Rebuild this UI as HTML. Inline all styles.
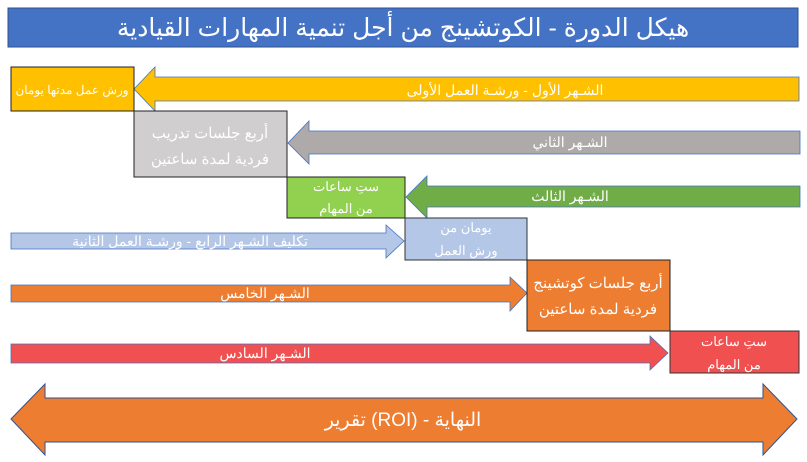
<!DOCTYPE html>
<html><head><meta charset="utf-8"><style>
html,body{margin:0;padding:0;background:#fff;width:807px;height:462px;overflow:hidden}
svg text{font-family:"Liberation Sans","Noto Sans CJK SC",sans-serif;fill:#fff}
</style></head><body>
<svg width="807" height="462" xmlns="http://www.w3.org/2000/svg">
<rect x="8" y="8" width="790" height="39" fill="#4472C4" stroke="#2F528F"/>
<text x="403" y="36" font-size="25" text-anchor="middle" direction="rtl">هيكل الدورة - الكوتشينج من أجل تنمية المهارات القيادية</text>

<polygon points="134,89 155,67 155,77 799,77 799,101 155,101 155,111" fill="#FFC000" stroke="#4472C4" stroke-width="0.8"/>
<text x="505" y="95" font-size="14" text-anchor="middle">الشـهر الأول - ورشـة العمل الأولى</text>
<rect x="11" y="67" width="123" height="44" fill="#FFC000" stroke="#222"/>
<text x="72" y="94" font-size="12" text-anchor="middle">ورش عمل مدتها يومان</text>

<polygon points="288,143 309,121 309,131 800,131 800,154 309,154 309,164" fill="#AEAAAA" stroke="#4472C4" stroke-width="0.8"/>
<text x="570" y="147" font-size="14" text-anchor="middle">الشـهر الثاني</text>
<rect x="134" y="111" width="153" height="66" fill="#D0CECE" stroke="#222"/>
<text x="210" y="138" font-size="15" text-anchor="middle">أربع جلسات تدريب</text>
<text x="210" y="164" font-size="15" text-anchor="middle">فردية لمدة ساعتين</text>

<polygon points="406,197 427,176 427,186 800,186 800,207 427,207 427,218" fill="#70AD47" stroke="#4472C4" stroke-width="0.8"/>
<text x="570" y="201" font-size="14" text-anchor="middle">الشـهر الثالث</text>
<rect x="287" y="177" width="118" height="41" fill="#92D050" stroke="#222"/>
<text x="346" y="191" font-size="13" text-anchor="middle">ستِ ساعات</text>
<text x="346" y="213" font-size="13" text-anchor="middle">من المهام</text>

<polygon points="11,233 386,233 386,225 404,241 386,258 386,249 11,249" fill="#B4C7E7" stroke="#4472C4" stroke-width="0.8"/>
<text x="190" y="246" font-size="14" text-anchor="middle">تكليف الشـهر الرابع - ورشـة العمل الثانية</text>
<rect x="405" y="218" width="122" height="42" fill="#B4C7E7" stroke="#333"/>
<text x="466" y="232" font-size="13" text-anchor="middle">يومان من</text>
<text x="466" y="255" font-size="13" text-anchor="middle">ورش العمل</text>

<polygon points="11,285 510,285 510,277 527,293 510,311 510,302 11,302" fill="#ED7D31" stroke="#4472C4" stroke-width="0.8"/>
<text x="265" y="298" font-size="14" text-anchor="middle">الشـهر الخامس</text>
<rect x="527" y="260" width="143" height="71" fill="#ED7D31" stroke="#222"/>
<text x="598" y="288" font-size="15" text-anchor="middle">أربع جلسات كوتشينج</text>
<text x="598" y="314" font-size="15" text-anchor="middle">فردية لمدة ساعتين</text>

<polygon points="11,344 650,344 650,336 668,353 650,370 650,363 11,363" fill="#F05050" stroke="#4472C4" stroke-width="0.8"/>
<text x="265" y="358" font-size="14" text-anchor="middle">الشـهر السادس</text>
<rect x="670" y="331" width="129" height="42" fill="#F05050" stroke="#333"/>
<text x="734" y="346" font-size="13" text-anchor="middle">ستِ ساعات</text>
<text x="734" y="369" font-size="13" text-anchor="middle">من المهام</text>

<polygon points="11,419 45,384 45,398 763,398 763,384 797,419 763,455 763,442 45,442 45,455" fill="#ED7D31" stroke="#2F528F" stroke-width="1"/>
<text x="403" y="426" font-size="19" text-anchor="middle" direction="rtl">النهاية - (ROI) تقرير</text>
</svg>
</body></html>
